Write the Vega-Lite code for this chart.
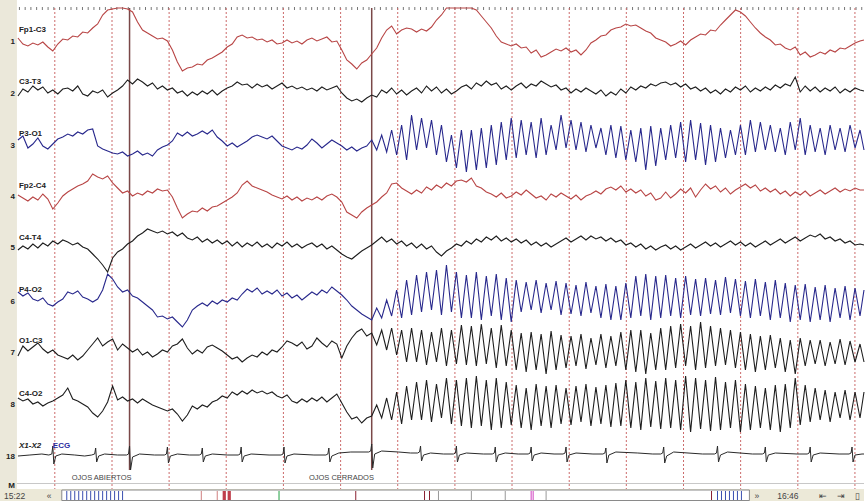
{
"$schema":"https://vega.github.io/schema/vega-lite/v6.json",
"width":867,"height":501,"padding":0,
"autosize":{"type":"fit","contains":"padding"},
"background":"white",
"config":{"view":{"stroke":null},"text":{"font":"Liberation Sans"}},
"resolve":{"scale":{"color":"independent"}},
"datasets":{
"eeg":[
{"x":18,"a":38,"b":96,"c":140,"d":195,"e":250,"f":292,"g":356,"h":398},
{"x":23,"a":44,"b":89,"c":136,"d":198,"e":246,"f":296,"g":346,"h":401},
{"x":28,"a":46,"b":92,"c":148,"d":201,"e":249,"f":293,"g":351,"h":399},
{"x":33,"a":43,"b":86,"c":144,"d":197,"e":244,"f":299,"g":347,"h":404},
{"x":38,"a":45,"b":90,"c":138,"d":200,"e":248,"f":301,"g":343,"h":402},
{"x":43,"a":42,"b":87,"c":146,"d":194,"e":243,"f":298,"g":349,"h":406},
{"x":48,"a":47,"b":93,"c":149,"d":199,"e":246,"f":304,"g":353,"h":403},
{"x":53,"a":51,"b":90,"c":144,"d":209,"e":241,"f":306,"g":350,"h":401},
{"x":58,"a":44,"b":94,"c":139,"d":203,"e":244,"f":302,"g":355,"h":398},
{"x":63,"a":39,"b":89,"c":137,"d":196,"e":240,"f":299,"g":357,"h":395},
{"x":68,"a":40,"b":88,"c":134,"d":192,"e":242,"f":292,"g":359,"h":388},
{"x":73,"a":36,"b":91,"c":136,"d":189,"e":245,"f":294,"g":355,"h":399},
{"x":78,"a":37,"b":86,"c":132,"d":186,"e":243,"f":291,"g":360,"h":401},
{"x":83,"a":32,"b":94,"c":134,"d":184,"e":247,"f":297,"g":356,"h":404},
{"x":88,"a":33,"b":96,"c":130,"d":181,"e":249,"f":299,"g":350,"h":407},
{"x":93,"a":28,"b":91,"c":129,"d":174,"e":254,"f":302,"g":344,"h":413},
{"x":98,"a":24,"b":93,"c":146,"d":177,"e":259,"f":299,"g":338,"h":417},
{"x":103,"a":15,"b":90,"c":149,"d":179,"e":265,"f":290,"g":346,"h":411},
{"x":108,"a":10,"b":97,"c":151,"d":176,"e":272,"f":274,"g":342,"h":402},
{"x":113,"a":9,"b":93,"c":153,"d":183,"e":258,"f":279,"g":339,"h":386},
{"x":118,"a":8,"b":90,"c":154,"d":188,"e":252,"f":287,"g":350,"h":400},
{"x":123,"a":8,"b":86,"c":152,"d":193,"e":249,"f":292,"g":344,"h":397},
{"x":128,"a":9,"b":80,"c":156,"d":191,"e":244,"f":290,"g":348,"h":401},
{"x":133,"a":12,"b":84,"c":154,"d":196,"e":241,"f":296,"g":352,"h":399},
{"x":138,"a":22,"b":79,"c":151,"d":193,"e":236,"f":298,"g":349,"h":403},
{"x":143,"a":30,"b":82,"c":155,"d":195,"e":233,"f":302,"g":355,"h":399},
{"x":148,"a":33,"b":86,"c":153,"d":191,"e":229,"f":306,"g":352,"h":402},
{"x":153,"a":36,"b":83,"c":156,"d":193,"e":231,"f":310,"g":357,"h":405},
{"x":158,"a":39,"b":89,"c":150,"d":189,"e":233,"f":317,"g":354,"h":407},
{"x":163,"a":38,"b":86,"c":147,"d":191,"e":231,"f":316,"g":350,"h":409},
{"x":168,"a":41,"b":90,"c":145,"d":190,"e":234,"f":319,"g":352,"h":411},
{"x":173,"a":50,"b":88,"c":141,"d":197,"e":232,"f":317,"g":346,"h":409},
{"x":178,"a":62,"b":93,"c":133,"d":208,"e":236,"f":322,"g":344,"h":414},
{"x":183,"a":71,"b":91,"c":136,"d":218,"e":233,"f":327,"g":339,"h":421},
{"x":188,"a":68,"b":96,"c":132,"d":214,"e":238,"f":320,"g":348,"h":415},
{"x":193,"a":67,"b":92,"c":136,"d":211,"e":240,"f":310,"g":354,"h":406},
{"x":198,"a":64,"b":95,"c":134,"d":212,"e":237,"f":306,"g":350,"h":409},
{"x":203,"a":65,"b":91,"c":131,"d":208,"e":242,"f":303,"g":353,"h":405},
{"x":208,"a":60,"b":94,"c":134,"d":211,"e":239,"f":306,"g":347,"h":407},
{"x":213,"a":58,"b":90,"c":130,"d":207,"e":243,"f":301,"g":345,"h":402},
{"x":218,"a":55,"b":95,"c":137,"d":206,"e":240,"f":304,"g":348,"h":400},
{"x":223,"a":52,"b":91,"c":141,"d":203,"e":244,"f":300,"g":351,"h":396},
{"x":228,"a":47,"b":88,"c":146,"d":200,"e":241,"f":302,"g":355,"h":398},
{"x":233,"a":44,"b":86,"c":143,"d":197,"e":246,"f":298,"g":359,"h":392},
{"x":238,"a":37,"b":82,"c":147,"d":193,"e":242,"f":300,"g":357,"h":395},
{"x":243,"a":35,"b":85,"c":144,"d":185,"e":247,"f":294,"g":362,"h":391},
{"x":248,"a":38,"b":84,"c":141,"d":181,"e":243,"f":289,"g":358,"h":394},
{"x":253,"a":37,"b":88,"c":137,"d":186,"e":246,"f":292,"g":355,"h":390},
{"x":258,"a":40,"b":84,"c":135,"d":188,"e":242,"f":288,"g":357,"h":393},
{"x":263,"a":39,"b":87,"c":137,"d":190,"e":247,"f":294,"g":352,"h":391},
{"x":268,"a":42,"b":85,"c":139,"d":192,"e":244,"f":291,"g":355,"h":394},
{"x":273,"a":40,"b":89,"c":136,"d":195,"e":248,"f":294,"g":350,"h":392},
{"x":278,"a":44,"b":86,"c":141,"d":197,"e":243,"f":290,"g":352,"h":396},
{"x":283,"a":43,"b":83,"c":146,"d":199,"e":246,"f":296,"g":347,"h":398},
{"x":288,"a":40,"b":88,"c":148,"d":196,"e":242,"f":293,"g":341,"h":395},
{"x":293,"a":43,"b":86,"c":150,"d":200,"e":247,"f":298,"g":343,"h":401},
{"x":298,"a":41,"b":89,"c":147,"d":197,"e":244,"f":295,"g":346,"h":403},
{"x":303,"a":44,"b":87,"c":149,"d":201,"e":248,"f":300,"g":342,"h":399},
{"x":308,"a":40,"b":90,"c":145,"d":198,"e":245,"f":296,"g":349,"h":402},
{"x":313,"a":38,"b":88,"c":139,"d":200,"e":243,"f":292,"g":346,"h":398},
{"x":318,"a":41,"b":91,"c":143,"d":197,"e":247,"f":295,"g":338,"h":401},
{"x":323,"a":39,"b":87,"c":148,"d":200,"e":244,"f":290,"g":343,"h":397},
{"x":328,"a":37,"b":90,"c":144,"d":196,"e":249,"f":293,"g":347,"h":402},
{"x":333,"a":42,"b":88,"c":140,"d":194,"e":246,"f":287,"g":341,"h":398},
{"x":338,"a":41,"b":86,"c":143,"d":197,"e":250,"f":291,"g":344,"h":394},
{"x":343,"a":50,"b":93,"c":146,"d":202,"e":254,"f":295,"g":358,"h":403},
{"x":348,"a":60,"b":98,"c":150,"d":212,"e":257,"f":300,"g":346,"h":412},
{"x":353,"a":64,"b":101,"c":147,"d":215,"e":259,"f":306,"g":338,"h":419},
{"x":358,"a":69,"b":99,"c":151,"d":218,"e":255,"f":310,"g":332,"h":417},
{"x":363,"a":63,"b":102,"c":148,"d":212,"e":251,"f":314,"g":329,"h":423},
{"x":368,"a":60,"b":98,"c":146,"d":208,"e":248,"f":317,"g":336,"h":418},
{"x":373,"a":54,"b":95,"c":140,"d":205,"e":245,"f":320,"g":333,"h":416},
{"x":378,"a":48,"b":97,"c":150,"d":202,"e":241,"f":308,"g":345,"h":405},
{"x":383,"a":38,"b":90,"c":135,"d":197,"e":237,"f":318,"g":330,"h":418},
{"x":388,"a":30,"b":93,"c":152,"d":193,"e":242,"f":300,"g":350,"h":398},
{"x":393,"a":26,"b":88,"c":130,"d":184,"e":239,"f":316,"g":328,"h":420},
{"x":398,"a":34,"b":94,"c":155,"d":183,"e":244,"f":290,"g":355,"h":392},
{"x":403,"a":30,"b":90,"c":125,"d":188,"e":241,"f":318,"g":330,"h":424},
{"x":408,"a":28,"b":95,"c":160,"d":191,"e":246,"f":280,"g":362,"h":386},
{"x":413,"a":29,"b":91,"c":115,"d":194,"e":243,"f":315,"g":328,"h":420},
{"x":418,"a":32,"b":88,"c":150,"d":190,"e":248,"f":275,"g":362,"h":382},
{"x":423,"a":29,"b":93,"c":118,"d":193,"e":244,"f":312,"g":330,"h":420},
{"x":428,"a":31,"b":86,"c":148,"d":187,"e":249,"f":272,"g":365,"h":380},
{"x":433,"a":27,"b":91,"c":120,"d":190,"e":246,"f":310,"g":332,"h":422},
{"x":438,"a":20,"b":87,"c":155,"d":185,"e":252,"f":270,"g":362,"h":384},
{"x":443,"a":15,"b":93,"c":125,"d":188,"e":256,"f":315,"g":328,"h":418},
{"x":448,"a":8,"b":89,"c":162,"d":183,"e":251,"f":265,"g":366,"h":378},
{"x":453,"a":8,"b":94,"c":135,"d":186,"e":248,"f":312,"g":330,"h":424},
{"x":458,"a":8,"b":91,"c":168,"d":181,"e":244,"f":272,"g":364,"h":380},
{"x":463,"a":8,"b":87,"c":130,"d":180,"e":246,"f":318,"g":325,"h":426},
{"x":468,"a":8,"b":85,"c":172,"d":182,"e":241,"f":275,"g":365,"h":378},
{"x":473,"a":8,"b":89,"c":130,"d":178,"e":244,"f":318,"g":326,"h":428},
{"x":478,"a":10,"b":83,"c":170,"d":186,"e":239,"f":272,"g":366,"h":376},
{"x":483,"a":16,"b":86,"c":128,"d":188,"e":242,"f":320,"g":324,"h":426},
{"x":488,"a":22,"b":81,"c":168,"d":192,"e":237,"f":276,"g":364,"h":380},
{"x":493,"a":28,"b":85,"c":125,"d":194,"e":240,"f":316,"g":328,"h":430},
{"x":498,"a":36,"b":83,"c":165,"d":197,"e":236,"f":274,"g":368,"h":378},
{"x":503,"a":42,"b":89,"c":122,"d":193,"e":241,"f":320,"g":325,"h":428},
{"x":508,"a":44,"b":86,"c":160,"d":198,"e":238,"f":278,"g":366,"h":382},
{"x":513,"a":46,"b":90,"c":118,"d":196,"e":242,"f":322,"g":330,"h":425},
{"x":518,"a":44,"b":86,"c":158,"d":192,"e":239,"f":280,"g":370,"h":385},
{"x":523,"a":48,"b":83,"c":120,"d":195,"e":243,"f":312,"g":333,"h":428},
{"x":528,"a":47,"b":88,"c":155,"d":190,"e":240,"f":282,"g":372,"h":388},
{"x":533,"a":53,"b":84,"c":122,"d":194,"e":245,"f":310,"g":332,"h":430},
{"x":538,"a":50,"b":86,"c":158,"d":198,"e":242,"f":280,"g":370,"h":384},
{"x":543,"a":57,"b":81,"c":118,"d":196,"e":246,"f":313,"g":334,"h":426},
{"x":548,"a":55,"b":84,"c":155,"d":200,"e":243,"f":283,"g":374,"h":386},
{"x":553,"a":52,"b":87,"c":125,"d":194,"e":247,"f":310,"g":331,"h":428},
{"x":558,"a":49,"b":85,"c":150,"d":197,"e":244,"f":281,"g":370,"h":385},
{"x":563,"a":51,"b":90,"c":115,"d":193,"e":241,"f":315,"g":335,"h":424},
{"x":568,"a":48,"b":88,"c":148,"d":196,"e":238,"f":283,"g":368,"h":388},
{"x":573,"a":52,"b":93,"c":120,"d":199,"e":242,"f":314,"g":336,"h":425},
{"x":578,"a":50,"b":89,"c":150,"d":195,"e":239,"f":285,"g":366,"h":386},
{"x":583,"a":55,"b":92,"c":122,"d":200,"e":236,"f":316,"g":334,"h":422},
{"x":588,"a":50,"b":88,"c":152,"d":196,"e":240,"f":282,"g":369,"h":384},
{"x":593,"a":43,"b":91,"c":125,"d":194,"e":236,"f":313,"g":338,"h":426},
{"x":598,"a":40,"b":94,"c":148,"d":191,"e":239,"f":286,"g":365,"h":387},
{"x":603,"a":36,"b":90,"c":128,"d":194,"e":237,"f":318,"g":334,"h":424},
{"x":608,"a":35,"b":96,"c":155,"d":189,"e":241,"f":284,"g":368,"h":385},
{"x":613,"a":30,"b":92,"c":125,"d":187,"e":238,"f":320,"g":336,"h":427},
{"x":618,"a":28,"b":95,"c":158,"d":190,"e":242,"f":286,"g":366,"h":383},
{"x":623,"a":27,"b":89,"c":126,"d":186,"e":240,"f":320,"g":332,"h":426},
{"x":628,"a":24,"b":93,"c":160,"d":192,"e":245,"f":283,"g":370,"h":380},
{"x":633,"a":26,"b":87,"c":130,"d":189,"e":243,"f":318,"g":330,"h":428},
{"x":638,"a":25,"b":90,"c":162,"d":193,"e":247,"f":276,"g":372,"h":382},
{"x":643,"a":28,"b":86,"c":128,"d":190,"e":244,"f":316,"g":330,"h":430},
{"x":648,"a":31,"b":88,"c":170,"d":196,"e":249,"f":274,"g":374,"h":378},
{"x":653,"a":33,"b":84,"c":126,"d":193,"e":246,"f":320,"g":333,"h":427},
{"x":658,"a":38,"b":86,"c":166,"d":200,"e":250,"f":276,"g":370,"h":381},
{"x":663,"a":40,"b":83,"c":128,"d":198,"e":247,"f":318,"g":328,"h":429},
{"x":668,"a":42,"b":82,"c":160,"d":192,"e":245,"f":275,"g":370,"h":378},
{"x":673,"a":46,"b":85,"c":125,"d":198,"e":249,"f":316,"g":326,"h":428},
{"x":678,"a":44,"b":83,"c":158,"d":194,"e":246,"f":278,"g":368,"h":380},
{"x":683,"a":41,"b":87,"c":122,"d":189,"e":250,"f":318,"g":324,"h":430},
{"x":688,"a":45,"b":84,"c":162,"d":193,"e":247,"f":276,"g":366,"h":376},
{"x":693,"a":40,"b":89,"c":120,"d":188,"e":244,"f":315,"g":326,"h":432},
{"x":698,"a":37,"b":87,"c":160,"d":197,"e":248,"f":279,"g":370,"h":378},
{"x":703,"a":34,"b":91,"c":123,"d":190,"e":245,"f":316,"g":322,"h":429},
{"x":708,"a":35,"b":88,"c":165,"d":184,"e":242,"f":278,"g":368,"h":380},
{"x":713,"a":30,"b":93,"c":125,"d":189,"e":246,"f":314,"g":326,"h":431},
{"x":718,"a":31,"b":90,"c":162,"d":186,"e":243,"f":280,"g":366,"h":377},
{"x":723,"a":25,"b":94,"c":128,"d":192,"e":247,"f":315,"g":328,"h":430},
{"x":728,"a":20,"b":89,"c":158,"d":188,"e":244,"f":277,"g":365,"h":382},
{"x":733,"a":15,"b":92,"c":130,"d":194,"e":241,"f":313,"g":330,"h":428},
{"x":738,"a":10,"b":87,"c":155,"d":190,"e":245,"f":279,"g":368,"h":380},
{"x":743,"a":12,"b":90,"c":125,"d":187,"e":242,"f":316,"g":332,"h":432},
{"x":748,"a":16,"b":86,"c":155,"d":184,"e":246,"f":281,"g":370,"h":384},
{"x":753,"a":22,"b":92,"c":120,"d":188,"e":243,"f":318,"g":334,"h":430},
{"x":758,"a":28,"b":88,"c":152,"d":185,"e":247,"f":279,"g":372,"h":386},
{"x":763,"a":33,"b":91,"c":122,"d":191,"e":244,"f":316,"g":336,"h":428},
{"x":768,"a":37,"b":87,"c":150,"d":188,"e":241,"f":282,"g":370,"h":388},
{"x":773,"a":40,"b":90,"c":125,"d":192,"e":245,"f":320,"g":335,"h":430},
{"x":778,"a":45,"b":85,"c":152,"d":189,"e":242,"f":280,"g":368,"h":385},
{"x":783,"a":44,"b":88,"c":128,"d":194,"e":239,"f":318,"g":338,"h":432},
{"x":788,"a":48,"b":84,"c":155,"d":191,"e":243,"f":283,"g":372,"h":384},
{"x":793,"a":50,"b":86,"c":122,"d":196,"e":240,"f":322,"g":340,"h":428},
{"x":798,"a":47,"b":77,"c":150,"d":192,"e":237,"f":285,"g":374,"h":378},
{"x":803,"a":55,"b":92,"c":118,"d":195,"e":241,"f":320,"g":338,"h":425},
{"x":808,"a":52,"b":86,"c":155,"d":191,"e":238,"f":284,"g":366,"h":385},
{"x":813,"a":57,"b":91,"c":125,"d":196,"e":235,"f":322,"g":340,"h":422},
{"x":818,"a":55,"b":87,"c":152,"d":193,"e":237,"f":287,"g":364,"h":388},
{"x":823,"a":52,"b":92,"c":128,"d":190,"e":234,"f":320,"g":340,"h":420},
{"x":828,"a":54,"b":88,"c":155,"d":194,"e":239,"f":285,"g":366,"h":390},
{"x":833,"a":50,"b":91,"c":125,"d":191,"e":237,"f":322,"g":342,"h":422},
{"x":838,"a":52,"b":87,"c":150,"d":188,"e":241,"f":288,"g":364,"h":392},
{"x":843,"a":48,"b":93,"c":128,"d":192,"e":239,"f":318,"g":339,"h":418},
{"x":848,"a":49,"b":89,"c":152,"d":189,"e":243,"f":286,"g":365,"h":390},
{"x":853,"a":46,"b":92,"c":125,"d":191,"e":241,"f":320,"g":341,"h":420},
{"x":858,"a":43,"b":88,"c":148,"d":188,"e":245,"f":288,"g":362,"h":392},
{"x":863,"a":41,"b":90,"c":130,"d":190,"e":244,"f":316,"g":344,"h":418},
{"x":867,"a":40,"b":91,"c":150,"d":190,"e":245,"f":290,"g":362,"h":392}
],
"ecg":[
{"x":18,"y":456},{"x":30,"y":455},{"x":42,"y":454},{"x":49,"y":455},{"x":52,"y":454},{"x":53,"y":446},{"x":54,"y":464},{"x":56,"y":456},{"x":62,"y":454},{"x":75,"y":455},{"x":85,"y":456},
{"x":92,"y":455},{"x":95,"y":454},{"x":96,"y":448},{"x":97,"y":462},{"x":99,"y":456},{"x":105,"y":454},{"x":118,"y":455},
{"x":127,"y":455},{"x":129,"y":454},{"x":130,"y":446},{"x":131,"y":470},{"x":133,"y":457},{"x":140,"y":454},{"x":155,"y":455},
{"x":165,"y":455},{"x":167,"y":454},{"x":168,"y":447},{"x":169,"y":463},{"x":171,"y":456},{"x":178,"y":454},{"x":190,"y":455},
{"x":200,"y":455},{"x":202,"y":454},{"x":203,"y":448},{"x":204,"y":462},{"x":206,"y":456},{"x":213,"y":454},{"x":228,"y":455},
{"x":239,"y":455},{"x":241,"y":454},{"x":242,"y":447},{"x":243,"y":462},{"x":245,"y":456},{"x":252,"y":454},{"x":270,"y":455},
{"x":282,"y":455},{"x":284,"y":454},{"x":285,"y":447},{"x":286,"y":463},{"x":288,"y":456},{"x":295,"y":454},{"x":315,"y":455},
{"x":327,"y":455},{"x":329,"y":454},{"x":330,"y":448},{"x":331,"y":462},{"x":333,"y":456},{"x":340,"y":453},{"x":352,"y":452},
{"x":370,"y":452},{"x":372,"y":451},{"x":373,"y":444},{"x":374,"y":468},{"x":376,"y":454},{"x":383,"y":451},{"x":400,"y":452},{"x":412,"y":453},
{"x":419,"y":453},{"x":421,"y":452},{"x":422,"y":446},{"x":423,"y":461},{"x":425,"y":455},{"x":432,"y":453},{"x":445,"y":454},
{"x":455,"y":454},{"x":457,"y":453},{"x":458,"y":446},{"x":459,"y":462},{"x":461,"y":455},{"x":468,"y":453},{"x":485,"y":454},
{"x":494,"y":454},{"x":496,"y":453},{"x":497,"y":447},{"x":498,"y":462},{"x":500,"y":455},{"x":507,"y":453},{"x":520,"y":454},
{"x":530,"y":454},{"x":532,"y":453},{"x":533,"y":447},{"x":534,"y":461},{"x":536,"y":455},{"x":543,"y":453},{"x":556,"y":454},
{"x":565,"y":454},{"x":567,"y":453},{"x":568,"y":447},{"x":569,"y":462},{"x":571,"y":455},{"x":578,"y":453},{"x":595,"y":454},
{"x":605,"y":454},{"x":607,"y":453},{"x":608,"y":448},{"x":609,"y":463},{"x":611,"y":455},{"x":618,"y":452},{"x":640,"y":453},{"x":655,"y":454},
{"x":663,"y":454},{"x":665,"y":453},{"x":666,"y":447},{"x":667,"y":463},{"x":669,"y":456},{"x":676,"y":452},{"x":705,"y":454},
{"x":717,"y":454},{"x":719,"y":453},{"x":720,"y":446},{"x":721,"y":462},{"x":723,"y":455},{"x":730,"y":452},{"x":755,"y":454},
{"x":765,"y":454},{"x":767,"y":453},{"x":768,"y":447},{"x":769,"y":462},{"x":771,"y":455},{"x":778,"y":453},{"x":800,"y":454},
{"x":810,"y":454},{"x":812,"y":453},{"x":813,"y":447},{"x":814,"y":462},{"x":816,"y":455},{"x":823,"y":453},{"x":842,"y":454},
{"x":852,"y":454},{"x":854,"y":453},{"x":855,"y":447},{"x":856,"y":462},{"x":858,"y":455},{"x":865,"y":454},{"x":867,"y":454}
],
"grid":[{"t":55},{"t":112.4},{"t":169.7},{"t":227},{"t":284.4},{"t":341.8},{"t":399.1},{"t":456.5},{"t":513.8},{"t":571.2},{"t":628.5},{"t":685.9},{"t":743.2},{"t":800.6},{"t":857.9}],
"marks":[{"t":130},{"t":373}],
"labels":[{"t":"Fp1-C3","x":19,"y":30},{"t":"C3-T3","x":19,"y":82},{"t":"P3-O1","x":19,"y":134},{"t":"Fp2-C4","x":19,"y":186},{"t":"C4-T4","x":19,"y":238},{"t":"P4-O2","x":19,"y":290},{"t":"O1-C3","x":19,"y":341},{"t":"C4-O2","x":19,"y":394}],
"nums":[{"t":"1","y":42},{"t":"2","y":94},{"t":"3","y":146},{"t":"4","y":197},{"t":"5","y":248},{"t":"6","y":302},{"t":"7","y":353},{"t":"8","y":405},{"t":"18","y":457},{"t":"M","y":486}],
"notes":[{"t":"OJOS ABIERTOS","x":72,"y":478},{"t":"OJOS CERRADOS","x":310,"y":478}],
"ticks":[{"t":67,"k":"blue"},{"t":71,"k":"blue"},{"t":75,"k":"blue"},{"t":79,"k":"blue"},{"t":83,"k":"blue"},{"t":87,"k":"blue"},{"t":91,"k":"blue"},{"t":95,"k":"blue"},{"t":99,"k":"blue"},{"t":103,"k":"blue"},{"t":107,"k":"blue"},{"t":111,"k":"blue"},{"t":115,"k":"blue"},{"t":119,"k":"blue"},{"t":123,"k":"blue"},
{"t":202,"k":"pale"},{"t":218,"k":"pale"},{"t":224,"k":"red"},{"t":225,"k":"red"},{"t":226,"k":"red"},{"t":229,"k":"red"},{"t":230,"k":"red"},{"t":231,"k":"red"},{"t":280,"k":"green"},{"t":357,"k":"dark"},{"t":426,"k":"dark"},{"t":431,"k":"dark"},{"t":440,"k":"gray"},{"t":473,"k":"gray"},{"t":507,"k":"gray"},{"t":533,"k":"mag"},{"t":535,"k":"mag"},{"t":548,"k":"gray"},{"t":714,"k":"dark"},
{"t":720,"k":"blue"},{"t":724,"k":"blue"},{"t":728,"k":"blue"},{"t":732,"k":"blue"},{"t":736,"k":"blue"},{"t":740,"k":"blue"},{"t":744,"k":"blue"}],
"status":[{"t":"15:22","x":4},{"t":"«","x":47},{"t":"»","x":757},{"t":"16:46","x":780},{"t":"⇤","x":822},{"t":"⇥","x":840},{"t":"▯","x":858}]
},
"layer":[
{"data":{"values":[{}]},"mark":{"type":"rect","fill":"#ebe8da"},
 "encoding":{"x":{"datum":0,"type":"quantitative","scale":{"domain":[0,867],"nice":false,"zero":false},"axis":null},"x2":{"datum":17},
 "y":{"datum":0,"type":"quantitative","scale":{"domain":[0,501],"nice":false,"zero":false,"reverse":true},"axis":null},"y2":{"datum":489}}},
{"data":{"values":[{}]},"mark":{"type":"rule","color":"#c8c8c8","strokeWidth":1},
 "encoding":{"x":{"datum":17,"type":"quantitative"},"x2":{"datum":867},"y":{"datum":483.5,"type":"quantitative"}}},
{"data":{"values":[{}]},"mark":{"type":"rule","color":"#777777","strokeWidth":3,"strokeDash":[1,4.73]},
 "encoding":{"x":{"datum":19,"type":"quantitative"},"x2":{"datum":867},"y":{"datum":8.5,"type":"quantitative"}}},
{"data":{"name":"grid"},"mark":{"type":"rule","color":"#cc6a6a","strokeWidth":1,"strokeDash":[2,2]},
 "encoding":{"x":{"field":"t","type":"quantitative"},"y":{"datum":8,"type":"quantitative"},"y2":{"datum":489}}},
{"data":{"name":"marks"},"mark":{"type":"rule","color":"#7a4848","strokeWidth":1.5},
 "encoding":{"x":{"field":"t","type":"quantitative"},"y":{"datum":8,"type":"quantitative"},"y2":{"datum":470}}},
{"data":{"name":"eeg"},"transform":[{"fold":["a","b","c","d","e","f","g","h"],"as":["ch","v"]}],
 "mark":{"type":"line","strokeWidth":1.1,"interpolate":"linear"},
 "encoding":{"x":{"field":"x","type":"quantitative"},"y":{"field":"v","type":"quantitative"},
 "color":{"field":"ch","type":"nominal","legend":null,"scale":{"domain":["a","b","c","d","e","f","g","h"],"range":["#b84545","#1e1e1e","#28288c","#b84545","#1e1e1e","#28288c","#1e1e1e","#1e1e1e"]}}}},
{"data":{"name":"ecg"},"mark":{"type":"line","strokeWidth":1,"color":"#2a2a2a"},
 "encoding":{"x":{"field":"x","type":"quantitative"},"y":{"field":"y","type":"quantitative"}}},
{"data":{"name":"labels"},"mark":{"type":"text","align":"left","baseline":"middle","fontSize":8,"fontWeight":"bold","color":"#222222"},
 "encoding":{"x":{"field":"x","type":"quantitative"},"y":{"field":"y","type":"quantitative"},"text":{"field":"t"}}},
{"data":{"name":"nums"},"mark":{"type":"text","align":"right","baseline":"middle","fontSize":8,"fontWeight":"bold","color":"#222222"},
 "encoding":{"x":{"datum":15,"type":"quantitative"},"y":{"field":"y","type":"quantitative"},"text":{"field":"t"}}},
{"data":{"values":[{"t":"X1-X2"}]},"mark":{"type":"text","align":"left","baseline":"middle","fontSize":8,"fontWeight":"bold","fontStyle":"italic","color":"#222222"},
 "encoding":{"x":{"datum":19,"type":"quantitative"},"y":{"datum":446,"type":"quantitative"},"text":{"field":"t"}}},
{"data":{"values":[{"t":"ECG"}]},"mark":{"type":"text","align":"left","baseline":"middle","fontSize":8,"fontWeight":"bold","color":"#2a2aa0"},
 "encoding":{"x":{"datum":53,"type":"quantitative"},"y":{"datum":446,"type":"quantitative"},"text":{"field":"t"}}},
{"data":{"name":"notes"},"mark":{"type":"text","align":"left","baseline":"middle","fontSize":7.5,"color":"#444444"},
 "encoding":{"x":{"field":"x","type":"quantitative"},"y":{"field":"y","type":"quantitative"},"text":{"field":"t"}}},
{"data":{"values":[{}]},"mark":{"type":"rect","fill":"#ece9d8"},
 "encoding":{"x":{"datum":0,"type":"quantitative"},"x2":{"datum":867},"y":{"datum":489,"type":"quantitative"},"y2":{"datum":501}}},
{"data":{"values":[{}]},"mark":{"type":"rect","fill":"white","stroke":"#8a8a8a","strokeWidth":1},
 "encoding":{"x":{"datum":62,"type":"quantitative"},"x2":{"datum":752},"y":{"datum":490,"type":"quantitative"},"y2":{"datum":500.5}}},
{"data":{"name":"ticks"},"mark":{"type":"rule","strokeWidth":1},
 "encoding":{"x":{"field":"t","type":"quantitative"},"y":{"datum":491,"type":"quantitative"},"y2":{"datum":500},
 "color":{"field":"k","type":"nominal","legend":null,"scale":{"domain":["blue","pale","red","green","dark","gray","mag"],"range":["#3a4fb0","#d08080","#b01020","#20a040","#8a2030","#999999","#d040c0"]}}}},
{"data":{"name":"status"},"mark":{"type":"text","align":"left","baseline":"middle","fontSize":8.5,"color":"#444444"},
 "encoding":{"x":{"field":"x","type":"quantitative"},"y":{"datum":496,"type":"quantitative"},"text":{"field":"t"}}}
]
}
